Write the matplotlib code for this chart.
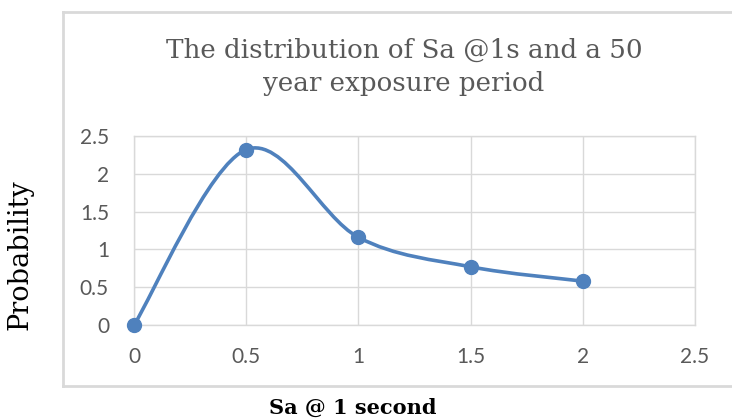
import matplotlib.pyplot as plt
import numpy as np
from matplotlib.path import Path
from matplotlib.patches import PathPatch
from matplotlib.lines import Line2D

# data
sa = [0, 0.5, 1, 1.5, 2]
prob = [0, 2.32, 1.16, 0.77, 0.58]
x_ticks = [0, 0.5, 1, 1.5, 2, 2.5]
y_ticks = [0, 0.5, 1, 1.5, 2, 2.5]

line_color = '#4F81BD'
grid_color = '#d9d9d9'
tick_color = '#595959'

fig = plt.figure(figsize=(7.32, 4.19), dpi=100)
ax = fig.add_axes([134 / 732, 1 - 325 / 419, (695 - 134) / 732, (325 - 136) / 419])

# Excel-style smoothed line: cubic Bezier through the points
pts = np.column_stack([sa, prob])
verts = [pts[0]]
codes = [Path.MOVETO]
n = len(pts)
for i in range(n - 1):
    p_prev = pts[i - 1] if i > 0 else pts[i]
    p_next2 = pts[i + 2] if i + 2 < n else pts[i + 1]
    c1 = pts[i] + (pts[i + 1] - p_prev) / 6
    c2 = pts[i + 1] - (p_next2 - pts[i]) / 6
    verts += [c1, c2, pts[i + 1]]
    codes += [Path.CURVE4] * 3
ax.add_patch(PathPatch(Path(verts, codes), fill=False, edgecolor=line_color,
                       linewidth=2.6, capstyle='round', zorder=3))
ax.plot(sa, prob, linestyle='none', marker='o', markersize=10,
        color=line_color, zorder=4, clip_on=False)

ax.set_xlim(0, 2.5)
ax.set_ylim(0, 2.5)
ax.set_xticks(x_ticks)
ax.set_yticks(y_ticks)
ax.set_xticklabels([f'{t:g}' for t in x_ticks])
ax.set_yticklabels([f'{t:g}' for t in y_ticks])
ax.grid(True, color=grid_color, linewidth=1)
ax.set_axisbelow(True)
for s in ax.spines.values():
    s.set_color(grid_color)
    s.set_linewidth(1)
ax.tick_params(length=0, labelsize=15, labelcolor=tick_color)
ax.tick_params(axis='x', pad=16)
ax.tick_params(axis='y', pad=18)
for lab in ax.get_xticklabels() + ax.get_yticklabels():
    lab.set_family('Lato')

# title inside the chart area
fig.text(404 / 732, 1 - 67 / 419, 'The distribution of Sa @1s and a 50\nyear exposure period',
         ha='center', va='center', family='DejaVu Serif', fontsize=18.8,
         color='#595959', linespacing=1.45)

# axis titles outside
fig.text(20 / 732, 1 - 255 / 419, 'Probability', rotation=90, ha='center', va='center',
         family='DejaVu Serif', fontsize=19.5, color='black')
fig.text(353 / 732, 1 - 408 / 419, 'Sa @ 1 second', ha='center', va='center',
         family='DejaVu Serif', fontsize=15, fontweight='bold', color='black')

# chart area border (cut off at the right)
W, H = 732, 419
for xs, ys in [([63, 732], [12, 12]), ([63, 63], [12, 386]), ([63, 732], [386, 386])]:
    fig.add_artist(Line2D([x / W for x in xs], [1 - y / H for y in ys],
                          color=grid_color, linewidth=2, transform=fig.transFigure))

fig.savefig('out.png', dpi=100)
